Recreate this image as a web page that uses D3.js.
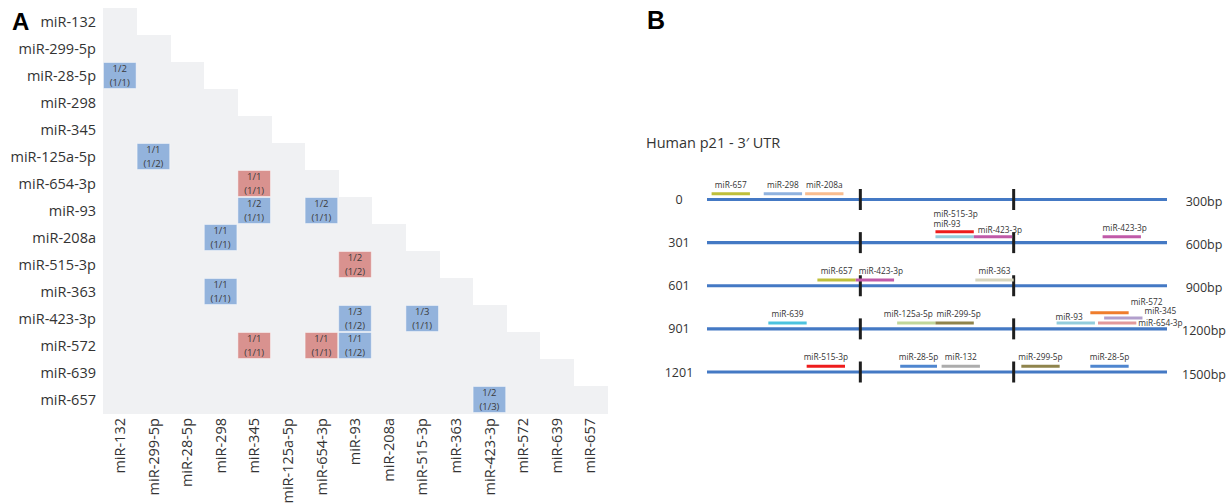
<!DOCTYPE html>
<html>
<head>
<meta charset="utf-8">
<script src="https://cdn.jsdelivr.net/npm/d3@7"></script>
<style>
  body { margin: 0; background: #fff; }
  text { font-family: "Open Sans", "DejaVu Sans", sans-serif; }
</style>
</head>
<body>
<svg id="chart" width="1227" height="503"></svg>
<script>
// panel A - co-targeting matrix
var mirs = ["miR-132", "miR-299-5p", "miR-28-5p", "miR-298", "miR-345", "miR-125a-5p", "miR-654-3p",
            "miR-93", "miR-208a", "miR-515-3p", "miR-363", "miR-423-3p", "miR-572", "miR-639", "miR-657"];

// [row miR, column miR, top text, bottom text, group]
var pairs = [
  ["miR-28-5p",   "miR-132",     "1/2", "(1/1)", "blue"],
  ["miR-125a-5p", "miR-299-5p",  "1/1", "(1/2)", "blue"],
  ["miR-654-3p",  "miR-345",     "1/1", "(1/1)", "red"],
  ["miR-93",      "miR-345",     "1/2", "(1/1)", "blue"],
  ["miR-93",      "miR-654-3p",  "1/2", "(1/1)", "blue"],
  ["miR-208a",    "miR-298",     "1/1", "(1/1)", "blue"],
  ["miR-515-3p",  "miR-93",      "1/2", "(1/2)", "red"],
  ["miR-363",     "miR-298",     "1/1", "(1/1)", "blue"],
  ["miR-423-3p",  "miR-93",      "1/3", "(1/2)", "blue"],
  ["miR-423-3p",  "miR-515-3p",  "1/3", "(1/1)", "blue"],
  ["miR-572",     "miR-345",     "1/1", "(1/1)", "red"],
  ["miR-572",     "miR-654-3p",  "1/1", "(1/1)", "red"],
  ["miR-572",     "miR-93",      "1/1", "(1/2)", "blue"],
  ["miR-657",     "miR-423-3p",  "1/2", "(1/3)", "blue"]
];

// panel B - p21 3' UTR map
var trackStarts = ["0", "301", "601", "901", "1201"];
var trackEnds = ["300bp", "600bp", "900bp", "1200bp", "1500bp"];
var trackTicks = [100, 200];
// [miR, start bp, end bp]
var sites = [
  ["miR-657", 3, 28], ["miR-298", 37, 62], ["miR-208a", 64, 89],
  ["miR-93", 449, 474], ["miR-515-3p", 449, 474], ["miR-423-3p", 474, 499], ["miR-423-3p", 558, 583],
  ["miR-657", 672, 697], ["miR-423-3p", 697, 722], ["miR-363", 775, 800],
  ["miR-639", 940, 965], ["miR-125a-5p", 1024, 1049], ["miR-299-5p", 1049, 1074],
  ["miR-93", 1128, 1153], ["miR-654-3p", 1155, 1180], ["miR-345", 1159, 1184], ["miR-572", 1150, 1175],
  ["miR-515-3p", 1265, 1290], ["miR-28-5p", 1326, 1350], ["miR-132", 1353, 1378],
  ["miR-299-5p", 1405, 1430], ["miR-28-5p", 1450, 1475]
];

var svg = d3.select("#chart");

// ---------- A ----------
var x = d3.scaleBand().domain(mirs).range([103, 607]);
var y = d3.scaleBand().domain(mirs).range([8, 413]);
var groupColor = d3.scaleOrdinal().domain(["blue", "red"]).range(["#93b3dc", "#d9928f"]);

var gA = svg.append("g");
var cells = [];
mirs.forEach(function(r, i) {
  mirs.slice(0, i + 1).forEach(function(c) { cells.push([r, c]); });
});
gA.selectAll("rect.bg").data(cells).enter().append("rect")
    .attr("class", "bg")
    .attr("x", function(d) { return x(d[1]); })
    .attr("y", function(d) { return y(d[0]); })
    .attr("width", x.bandwidth() + 0.5)
    .attr("height", y.bandwidth() + 0.5)
    .attr("fill", "#f0f1f3")
    .attr("shape-rendering", "crispEdges");

var pc = gA.selectAll("g.pair").data(pairs).enter().append("g")
    .attr("class", "pair")
    .attr("transform", function(d) { return "translate(" + x(d[1]) + "," + y(d[0]) + ")"; });
pc.append("rect")
    .attr("x", 0.5).attr("y", 0.5)
    .attr("width", x.bandwidth() - 1)
    .attr("height", y.bandwidth() - 1)
    .attr("fill", function(d) { return groupColor(d[4]); })
    .attr("stroke", "rgba(255,255,255,0.45)")
    .attr("stroke-width", 1);
pc.append("text")
    .attr("x", x.bandwidth() / 2).attr("y", y.bandwidth() / 2 - 3.3)
    .attr("text-anchor", "middle")
    .style("font-size", "9.5px").style("fill", "#3a3a3a")
    .text(function(d) { return d[2]; });
pc.append("text")
    .attr("x", x.bandwidth() / 2).attr("y", y.bandwidth() / 2 + 10.3)
    .attr("text-anchor", "middle")
    .style("font-size", "9.5px").style("fill", "#3a3a3a")
    .text(function(d) { return d[3]; });

gA.selectAll("text.row").data(mirs).enter().append("text")
    .attr("class", "row")
    .attr("x", 96)
    .attr("y", function(d) { return y(d) + y.bandwidth() / 2; })
    .attr("dy", "0.36em")
    .attr("text-anchor", "end")
    .style("font-size", "14.5px").style("fill", "#333")
    .text(function(d) { return d; });

gA.selectAll("text.col").data(mirs).enter().append("text")
    .attr("class", "col")
    .attr("transform", function(d) { return "translate(" + (x(d) + x.bandwidth() / 2) + ",418) rotate(-90)"; })
    .attr("dy", "0.36em")
    .attr("text-anchor", "end")
    .style("font-size", "14.5px").style("fill", "#333")
    .text(function(d) { return d; });

svg.append("text").attr("x", 12).attr("y", 30)
    .style("font-family", "'Liberation Sans', Arial, sans-serif")
    .style("font-weight", "bold").style("font-size", "24px")
    .text("A");

// ---------- B ----------
svg.append("text").attr("x", 647).attr("y", 29)
    .style("font-family", "'Liberation Sans', Arial, sans-serif")
    .style("font-weight", "bold").style("font-size", "25px")
    .text("B");

svg.append("text").attr("x", 646).attr("y", 148)
    .style("font-size", "14.5px").style("fill", "#333")
    .text("Human p21 - 3\u2032 UTR");

var bx = d3.scaleLinear().domain([0, 300]).range([707, 1167]);
var by = d3.scalePoint().domain(d3.range(trackStarts.length)).range([199.5, 372]);
var siteColor = d3.scaleOrdinal()
    .domain(["miR-657", "miR-298", "miR-208a", "miR-515-3p", "miR-93", "miR-423-3p", "miR-363", "miR-639",
             "miR-125a-5p", "miR-299-5p", "miR-654-3p", "miR-345", "miR-572", "miR-28-5p", "miR-132"])
    .range(["#bfbf3a", "#8fb2df", "#f9bd8f", "#ee1c1c", "#93cddd", "#c05aa8", "#d7d5bd", "#4cc3df",
            "#c1d79a", "#8f844c", "#e3999b", "#b29fcc", "#ef7d2c", "#4f86cf", "#acacac"]);

var gB = svg.append("g");
gB.selectAll("line.track").data(d3.range(trackStarts.length)).enter().append("line")
    .attr("x1", bx(0)).attr("x2", bx(300))
    .attr("y1", function(d) { return by(d); }).attr("y2", function(d) { return by(d); })
    .attr("stroke", "#4479c4").attr("stroke-width", 3.2);

d3.range(trackStarts.length).forEach(function(t) {
  gB.selectAll(null).data(trackTicks).enter().append("line")
      .attr("x1", function(d) { return bx(d); }).attr("x2", function(d) { return bx(d); })
      .attr("y1", by(t) - 10.5).attr("y2", by(t) + 10.5)
      .attr("stroke", "#1e1e1e").attr("stroke-width", 3);
});

gB.selectAll("text.ts").data(trackStarts).enter().append("text")
    .attr("x", 679).attr("y", function(d, i) { return by(i); })
    .attr("dy", "0.36em").attr("text-anchor", "middle")
    .style("font-size", "12.5px").style("fill", "#333")
    .text(function(d) { return d; });
gB.selectAll("text.te").data(trackEnds).enter().append("text")
    .attr("x", 1204).attr("y", function(d, i) { return by(i) + 2; })
    .attr("dy", "0.36em").attr("text-anchor", "middle")
    .style("font-size", "12.5px").style("fill", "#333")
    .text(function(d) { return d; });

// stack overlapping sites into lanes, in list order
var laneGap = 5.2;
var placed = sites.map(function(s) {
  var row = Math.floor(s[1] / 300);
  return { name: s[0], start: s[1], end: s[2], row: row, s0: s[1] - row * 300, s1: s[2] - row * 300 };
});
placed.forEach(function(p, i) {
  var lane = 0;
  while (placed.slice(0, i).some(function(q) {
    return q.row === p.row && q.lane === lane && p.start < q.end && q.start < p.end;
  })) lane++;
  p.lane = lane;
  p.y = by(p.row) - 5.8 - lane * laneGap;
});

// hand placed labels where sites crowd each other
var labelFix = {
  "miR-93@449":     { anchor: "start", ref: "s0", dx: -2, dy: -10.2 },
  "miR-515-3p@449": { anchor: "start", ref: "s0", dx: -2, dy: -14.6 },
  "miR-423-3p@474": { anchor: "start", ref: "s0", dx: 4, dy: -3.7 },
  "miR-423-3p@558": { dx: 3 },
  "miR-423-3p@697": { dx: 6 },
  "miR-125a-5p@1024": { dx: -8 },
  "miR-299-5p@1049": { dx: 4 },
  "miR-93@1128":    { anchor: "start", ref: "s0", dx: -1, dy: -3.4 },
  "miR-654-3p@1155": { anchor: "start", ref: "s1", dx: 2, dy: 2.8 },
  "miR-345@1159":   { anchor: "start", ref: "s1", dx: 2, dy: -3.5 },
  "miR-572@1150":   { anchor: "start", ref: "s1", dx: 2, dy: -7.2 }
};

gB.selectAll("line.site").data(placed).enter().append("line")
    .attr("x1", function(d) { return bx(d.s0); })
    .attr("x2", function(d) { return bx(d.s1); })
    .attr("y1", function(d) { return d.y; }).attr("y2", function(d) { return d.y; })
    .attr("stroke", function(d) { return siteColor(d.name); })
    .attr("stroke-width", 3);

gB.selectAll("text.site").data(placed).enter().append("text")
    .each(function(d) {
      var f = labelFix[d.name + "@" + d.start] || {};
      var anchor = f.anchor || "middle";
      var px = f.ref ? bx(d[f.ref]) : bx((d.s0 + d.s1) / 2);
      d3.select(this)
          .attr("x", px + (f.dx || 0))
          .attr("y", d.y + (f.dy !== undefined ? f.dy : -6))
          .attr("text-anchor", anchor);
    })
    .style("font-size", "8.3px").style("fill", "#333")
    .text(function(d) { return d.name; });
</script>
</body>
</html>
